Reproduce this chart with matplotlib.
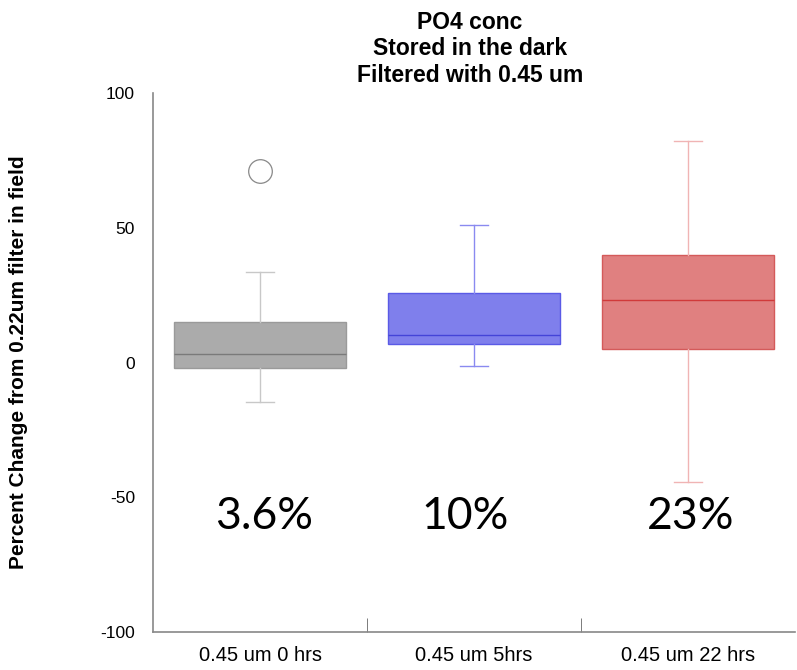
import matplotlib
matplotlib.use("Agg")
from matplotlib import pyplot as plt

plt.rcParams["font.family"] = ["Liberation Sans", "DejaVu Sans"]
plt.rcParams["axes.unicode_minus"] = False

groups = ["0.45 um 0 hrs", "0.45 um 5hrs", "0.45 um 22 hrs"]
medians = [3.2, 10.2, 23.1]
q1 = [-2.2, 7.0, 5.1]
q3 = [14.9, 25.8, 39.8]
whisker_lo = [-14.5, -1.2, -44.5]
whisker_hi = [33.6, 51.1, 82.3]
outliers = [[71.2], [], []]
pct_labels = ["3.6%", "10%", "23%"]

fill_cols = ["#ababab", "#7f7fec", "#e08080"]
edge_cols = ["#9a9a9a", "#5a5ae6", "#d45a5a"]
med_cols = ["#7a7a7a", "#4444d8", "#d03a3a"]
whisk_cols = ["#c8c8c8", "#8a8af0", "#f0b4b4"]
label_shift = [0.02, -0.04, 0.01]

fig = plt.figure(figsize=(7.97, 6.70), dpi=100)
ax = fig.add_axes([0.192, 0.0567, 0.8055, 0.8043])

stats = []
for i in range(len(groups)):
    stats.append(dict(med=medians[i], q1=q1[i], q3=q3[i],
                      whislo=whisker_lo[i], whishi=whisker_hi[i],
                      fliers=outliers[i]))

for i, s in enumerate(stats):
    ax.bxp([s], positions=[i + 1], widths=0.8, patch_artist=True,
           showfliers=True,
           boxprops=dict(facecolor=fill_cols[i], edgecolor=edge_cols[i], lw=1),
           medianprops=dict(color=med_cols[i], lw=1),
           whiskerprops=dict(color=whisk_cols[i], lw=1),
           capprops=dict(color=whisk_cols[i], lw=1),
           capwidths=0.13,
           flierprops=dict(marker="o", markersize=17, markerfacecolor="none",
                           markeredgecolor="#888888", markeredgewidth=0.9))

for i, t in enumerate(pct_labels):
    ax.text(i + 1 + label_shift[i], -57, t, ha="center", va="center",
            fontsize=32, family=["Lato", "DejaVu Sans"])

ax.set_xlim(0.5, 3.5)
ax.set_ylim(-100, 100)
ax.set_yticks([-100, -50, 0, 50, 100])
ax.set_xticks([1, 2, 3])
ax.set_xticklabels(groups, fontsize=14.5)
ax.set_xticks([1.5, 2.5], minor=True)
ax.tick_params(axis="x", which="major", length=0, pad=10)
ax.tick_params(axis="x", which="minor", direction="in", length=10,
               color="#666666")
ax.tick_params(axis="y", direction="out", length=0, labelsize=12.5, pad=13)

for side in ["top", "right"]:
    ax.spines[side].set_visible(False)
for side in ["left", "bottom"]:
    ax.spines[side].set_color("#888888")
    ax.spines[side].set_linewidth(1.2)

ax.set_ylabel("Percent Change from 0.22um filter in field", fontsize=15,
              fontweight="bold")
ax.yaxis.set_label_coords(-0.195, 0.5)
ax.set_title("PO4 conc\nStored in the dark\nFiltered with 0.45 um",
             fontsize=16.5, fontweight="bold", pad=8, linespacing=1.2)
ax.title.set_position((0.494, 1))

fig.savefig("out.png", dpi=100)
